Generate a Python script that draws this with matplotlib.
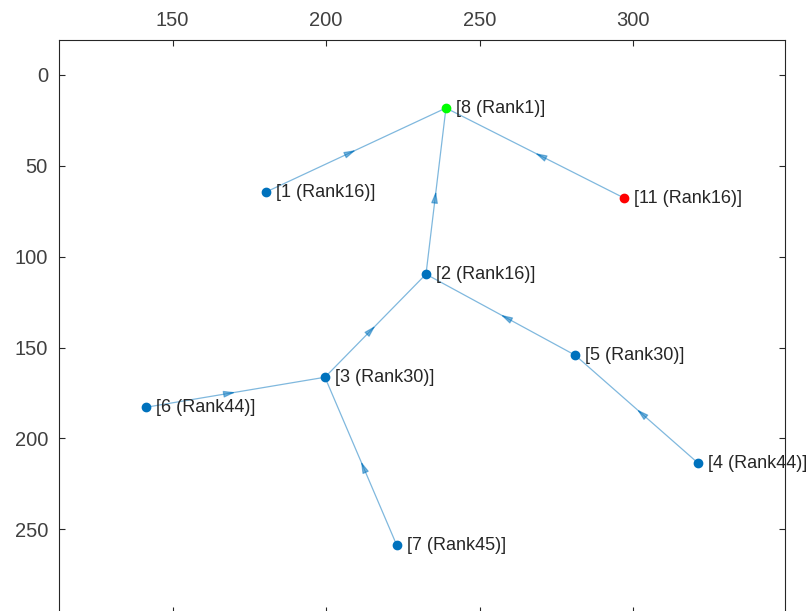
import matplotlib
matplotlib.use("Agg")
import matplotlib.pyplot as plt

plt.rcParams['font.family'] = ['Liberation Sans', 'DejaVu Sans']

node_ids = [1, 2, 3, 4, 5, 6, 7, 8, 11]
node_x = [180.4, 232.5, 199.6, 321.2, 281.1, 141.4, 223.0, 239.0, 297.0]
node_y = [64.4, 109.6, 166.3, 213.7, 154.2, 182.8, 258.8, 18.2, 67.7]
node_labels = ['[1 (Rank16)]', '[2 (Rank16)]', '[3 (Rank30)]', '[4 (Rank44)]',
               '[5 (Rank30)]', '[6 (Rank44)]', '[7 (Rank45)]', '[8 (Rank1)]',
               '[11 (Rank16)]']
node_colors = ['#0072BD'] * 7 + ['#00FF00', '#FF0000']

edge_src = [1, 11, 2, 3, 5, 4, 6, 7]
edge_dst = [8, 8, 8, 2, 2, 5, 3, 3]

xticks = [150, 200, 250, 300]
yticks = [0, 50, 100, 150, 200, 250]

fig = plt.figure(figsize=(8.06, 6.11), dpi=100)
ax = fig.add_axes([59 / 806, 1 - 613 / 611, (785 - 59) / 806, (613 - 39.5) / 611])

pos = {n: (x, y) for n, x, y in zip(node_ids, node_x, node_y)}
edge_col = '#0072BD'
for s, d in zip(edge_src, edge_dst):
    x0, y0 = pos[s]
    x1, y1 = pos[d]
    ax.plot([x0, x1], [y0, y1], color=edge_col, alpha=0.5, lw=0.9, zorder=1)
    mx, my = (x0 + x1) / 2, (y0 + y1) / 2
    bx, by = x0 + (x1 - x0) * 0.47, y0 + (y1 - y0) * 0.47
    ax.annotate('', xy=(mx, my), xytext=(bx, by),
                arrowprops=dict(arrowstyle='-|>,head_length=0.7,head_width=0.2',
                                color=edge_col, alpha=0.5, lw=0.9,
                                shrinkA=0, shrinkB=0, mutation_scale=10),
                zorder=1)

for x, y, c, lab in zip(node_x, node_y, node_colors, node_labels):
    ax.plot(x, y, 'o', color=c, markersize=6, zorder=3)
    ax.annotate(lab, (x, y), xytext=(10, 0), textcoords='offset pixels',
                ha='left', va='center', fontsize=13, color='#262626',
                zorder=4, annotation_clip=False)

ax.set_xlim(113.0, 349.4)
ax.set_ylim(296.0, -19.5)
ax.set_xticks(xticks)
ax.set_yticks(yticks)
ax.xaxis.tick_top()
ax.tick_params(axis='both', direction='in', length=4, width=0.8,
               labelsize=14.5, colors='#262626', labelcolor='#404040',
               top=True, bottom=True, left=True, right=True,
               labeltop=True, labelbottom=False, pad=8)
ax.tick_params(axis='x', pad=6.5)
for sp in ax.spines.values():
    sp.set_color('#262626')
    sp.set_linewidth(0.8)

fig.savefig('out.png', dpi=100)
